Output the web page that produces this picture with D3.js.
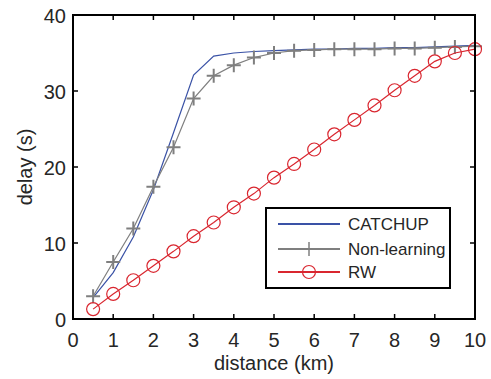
<!DOCTYPE html>
<html>
<head>
<meta charset="utf-8">
<script src="https://d3js.org/d3.v7.min.js"></script>
<style>
  body { margin: 0; background: #fff; }
  text { font-family: "Liberation Sans", Arial, sans-serif; fill: #262626; }
</style>
</head>
<body>
<div id="chart"></div>
<script>
const distance = [0.5, 1, 1.5, 2, 2.5, 3, 3.5, 4, 4.5, 5, 5.5, 6, 6.5, 7, 7.5, 8, 8.5, 9, 9.5, 10];
const catchup = [2.8, 6.1, 10.8, 17.0, 24.5, 32.1, 34.6, 35.0, 35.2, 35.3, 35.4, 35.5, 35.5, 35.6, 35.6, 35.7, 35.7, 35.8, 35.9, 36.0];
const nonLearning = [3.0, 7.5, 11.9, 17.4, 22.6, 29.0, 32.0, 33.4, 34.4, 35.0, 35.3, 35.4, 35.5, 35.5, 35.5, 35.6, 35.6, 35.7, 35.8, 35.9];
const rw = [1.3, 3.3, 5.1, 7.0, 8.9, 10.9, 12.7, 14.7, 16.5, 18.6, 20.4, 22.3, 24.3, 26.2, 28.1, 30.1, 32.0, 33.9, 35.0, 35.5];
const xTicks = [0, 1, 2, 3, 4, 5, 6, 7, 8, 9, 10];
const yTicks = [0, 10, 20, 30, 40];

const series = [
  { name: "CATCHUP", values: catchup, color: "#3a52a6", marker: null },
  { name: "Non-learning", values: nonLearning, color: "#7f7f7f", marker: "plus" },
  { name: "RW", values: rw, color: "#d9262f", marker: "circle" }
];

const width = 491, height = 379;
const margin = { left: 73, top: 15, right: 16, bottom: 60 };

const svg = d3.select("#chart").append("svg")
  .attr("width", width)
  .attr("height", height);

const x = d3.scaleLinear().domain([0, 10]).range([margin.left, width - margin.right]);
const y = d3.scaleLinear().domain([0, 40]).range([height - margin.bottom, margin.top]);

const line = d3.line().x((d, i) => x(distance[i])).y(d => y(d));

// lines and markers
series.forEach(s => {
  svg.append("path")
    .datum(s.values)
    .attr("fill", "none")
    .attr("stroke", s.color)
    .attr("stroke-width", 1.2)
    .attr("d", line);

  if (s.marker === "circle") {
    svg.append("g").selectAll("circle")
      .data(s.values)
      .join("circle")
      .attr("cx", (d, i) => x(distance[i]))
      .attr("cy", d => y(d))
      .attr("r", 6.5)
      .attr("fill", "none")
      .attr("stroke", s.color)
      .attr("stroke-width", 1.2);
  } else if (s.marker === "plus") {
    svg.append("g").selectAll("path")
      .data(s.values)
      .join("path")
      .attr("d", (d, i) => {
        const cx = x(distance[i]), cy = y(d), h = 7;
        return `M${cx - h},${cy}H${cx + h}M${cx},${cy - h}V${cy + h}`;
      })
      .attr("stroke", s.color)
      .attr("stroke-width", 2);
  }
});

// axes (box with inward ticks)
const x0 = x(0), x1 = x(10), y0 = y(0), y1 = y(40);
svg.append("rect")
  .attr("x", x0).attr("y", y1)
  .attr("width", x1 - x0).attr("height", y0 - y1)
  .attr("fill", "none").attr("stroke", "#000").attr("stroke-width", 2);

const tl = 5;
xTicks.forEach(t => {
  svg.append("line").attr("x1", x(t)).attr("x2", x(t)).attr("y1", y0).attr("y2", y0 - tl)
    .attr("stroke", "#000").attr("stroke-width", 1.5);
  svg.append("line").attr("x1", x(t)).attr("x2", x(t)).attr("y1", y1).attr("y2", y1 + tl)
    .attr("stroke", "#000").attr("stroke-width", 1.5);
  svg.append("text").attr("x", x(t)).attr("y", y0 + 28)
    .attr("text-anchor", "middle").attr("font-size", 20).text(t);
});
yTicks.forEach(t => {
  svg.append("line").attr("x1", x0).attr("x2", x0 + tl).attr("y1", y(t)).attr("y2", y(t))
    .attr("stroke", "#000").attr("stroke-width", 1.5);
  svg.append("line").attr("x1", x1).attr("x2", x1 - tl).attr("y1", y(t)).attr("y2", y(t))
    .attr("stroke", "#000").attr("stroke-width", 1.5);
  svg.append("text").attr("x", x0 - 7).attr("y", y(t) + 7.5)
    .attr("text-anchor", "end").attr("font-size", 20).text(t);
});

svg.append("text").attr("x", 274).attr("y", 370)
  .attr("text-anchor", "middle").attr("font-size", 20).text("distance (km)");
svg.append("text")
  .attr("transform", `translate(32,167) rotate(-90)`)
  .attr("text-anchor", "middle").attr("font-size", 20).text("delay (s)");

// legend
const lg = svg.append("g");
lg.append("rect").attr("x", 266).attr("y", 208).attr("width", 184).attr("height", 80)
  .attr("fill", "#fff").attr("stroke", "#000").attr("stroke-width", 2);
const rows = [224, 249, 272];
series.forEach((s, i) => {
  const ry = rows[i];
  lg.append("line").attr("x1", 278).attr("x2", 340).attr("y1", ry).attr("y2", ry)
    .attr("stroke", s.color).attr("stroke-width", 1.8);
  if (s.marker === "plus") {
    lg.append("path").attr("d", `M309,${ry - 7}V${ry + 7}`)
      .attr("stroke", s.color).attr("stroke-width", 1.5);
  } else if (s.marker === "circle") {
    lg.append("circle").attr("cx", 309).attr("cy", ry).attr("r", 6.5)
      .attr("fill", "none").attr("stroke", s.color).attr("stroke-width", 1.2);
  }
  lg.append("text").attr("x", 348).attr("y", ry + 6).attr("font-size", 17).text(s.name);
});
</script>
</body>
</html>
